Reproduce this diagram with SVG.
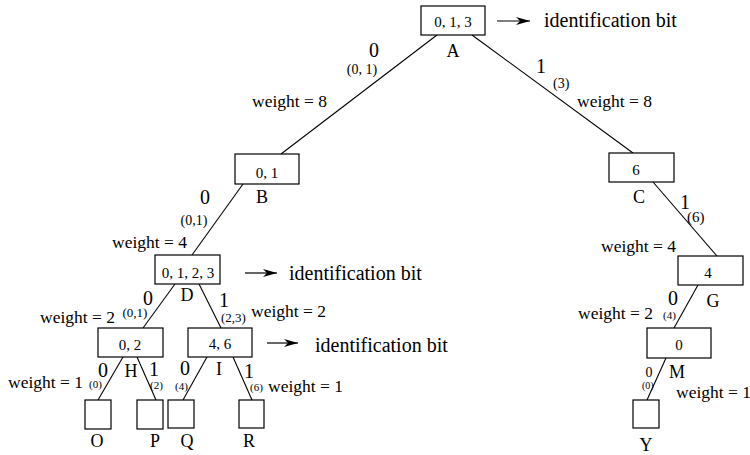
<svg xmlns="http://www.w3.org/2000/svg" width="750" height="455" viewBox="0 0 750 455" font-family="Liberation Serif, Times New Roman, DejaVu Serif, serif">
  <style>
    text { font-family: 'Liberation Serif', 'Times New Roman', 'DejaVu Serif', serif; fill: #000; }
    .box { fill: #fff; stroke: #000; stroke-width: 1.2; }
    .edge { stroke: #000; stroke-width: 1.1; fill: none; }
    .arr { stroke: #000; stroke-width: 1.2; fill: none; marker-end: url(#head); }
    .val { font-size: 15px; text-anchor: middle; }
    .name { font-size: 18px; text-anchor: middle; }
    .bit { font-size: 20px; text-anchor: middle; }
    .set { font-size: 14px; }
    .sm { font-size: 11px; }
    .w { font-size: 17.5px; }
    .id { font-size: 20px; }
  </style>
  <defs>
    <marker id="head" viewBox="0 0 14 8" refX="14" refY="4" markerWidth="14" markerHeight="8" markerUnits="userSpaceOnUse" orient="auto">
      <path d="M0,0 L14,4 L0,8 L4,4 Z" fill="#000"/>
    </marker>
  </defs>

  <!-- tree edges -->
  <g id="connectors">
    <line class="edge" x1="437" y1="35" x2="281" y2="154"/>
    <line class="edge" x1="472" y1="35" x2="633" y2="153"/>
    <line class="edge" x1="243" y1="184" x2="192" y2="255"/>
    <line class="edge" x1="653" y1="182" x2="717" y2="256"/>
    <line class="edge" x1="175" y1="284" x2="143" y2="328"/>
    <line class="edge" x1="199" y1="284" x2="221" y2="328"/>
    <line class="edge" x1="123" y1="357" x2="98" y2="400"/>
    <line class="edge" x1="137" y1="357" x2="156" y2="400"/>
    <line class="edge" x1="207" y1="357" x2="183" y2="400"/>
    <line class="edge" x1="233" y1="357" x2="252" y2="400"/>
    <line class="edge" x1="698" y1="285" x2="674" y2="328"/>
    <line class="edge" x1="666" y1="358" x2="647" y2="400"/>
    <!-- identification-bit pointers -->
    <line class="arr" x1="497" y1="21" x2="530" y2="21"/>
    <line class="arr" x1="245" y1="273" x2="277" y2="273"/>
    <line class="arr" x1="267" y1="343" x2="298" y2="343"/>
  </g>

  <!-- nodes -->
  <g id="A">
    <rect class="box" x="421" y="6" width="64" height="29"/>
    <text class="val" x="453" y="27">0, 1, 3</text>
    <text class="name" x="453" y="57">A</text>
  </g>
  <g id="B">
    <rect class="box" x="235" y="154" width="64" height="30"/>
    <text class="val" x="267" y="178">0, 1</text>
    <text class="name" x="262" y="203">B</text>
  </g>
  <g id="C">
    <rect class="box" x="609" y="153" width="65" height="29"/>
    <text class="val" x="636" y="175">6</text>
    <text class="name" x="639" y="203">C</text>
  </g>
  <g id="D">
    <rect class="box" x="155" y="255" width="65" height="29"/>
    <text class="val" x="188" y="278">0, 1, 2, 3</text>
    <text class="name" x="187" y="301">D</text>
  </g>
  <g id="G">
    <rect class="box" x="678" y="256" width="65" height="29"/>
    <text class="val" x="708" y="278">4</text>
    <text class="name" x="713" y="307">G</text>
  </g>
  <g id="H">
    <rect class="box" x="98" y="328" width="65" height="29"/>
    <text class="val" x="130" y="350">0, 2</text>
    <text class="name" x="131" y="377">H</text>
  </g>
  <g id="I">
    <rect class="box" x="188" y="328" width="64" height="29"/>
    <text class="val" x="220" y="349">4, 6</text>
    <text class="name" x="219" y="375">I</text>
  </g>
  <g id="M">
    <rect class="box" x="647" y="328" width="64" height="30"/>
    <text class="val" x="679" y="350">0</text>
    <text class="name" x="677" y="378">M</text>
  </g>
  <g id="O">
    <rect class="box" x="85" y="400" width="26" height="29"/>
    <text class="name" x="97" y="447">O</text>
  </g>
  <g id="P">
    <rect class="box" x="137" y="400" width="26" height="29"/>
    <text class="name" x="155" y="447">P</text>
  </g>
  <g id="Q">
    <rect class="box" x="168" y="400" width="26" height="28"/>
    <text class="name" x="187" y="447">Q</text>
  </g>
  <g id="R">
    <rect class="box" x="239" y="400" width="25" height="28"/>
    <text class="name" x="249" y="447">R</text>
  </g>
  <g id="Y">
    <rect class="box" x="633" y="400" width="26" height="28"/>
    <text class="name" x="646" y="451">Y</text>
  </g>

  <!-- pointer captions -->
  <g id="captions">
    <text class="id" x="544" y="27">identification bit</text>
    <text class="id" x="289" y="280">identification bit</text>
    <text class="id" x="315" y="352">identification bit</text>
  </g>

  <!-- edge bits and covered sets -->
  <g id="edge-labels">
    <text class="bit" x="374" y="57">0</text>
    <text class="set" x="362" y="74" text-anchor="middle">(0, 1)</text>
    <text class="bit" x="541" y="73">1</text>
    <text class="set" x="553" y="88">(3)</text>
    <text class="bit" x="205" y="204">0</text>
    <text class="set" x="194" y="225" text-anchor="middle">(0,1)</text>
    <text class="bit" x="685" y="209">1</text>
    <text class="set" x="687" y="222" style="font-size:15px">(6)</text>
    <text class="bit" x="148" y="305">0</text>
    <text class="set" x="135" y="317" text-anchor="middle" style="font-size:13px">(0,1)</text>
    <text class="bit" x="224" y="307">1</text>
    <text class="set" x="221" y="322" style="font-size:13px">(2,3)</text>
    <text class="bit" x="103" y="377">0</text>
    <text class="sm" x="89" y="388">(0)</text>
    <text class="bit" x="154" y="376">1</text>
    <text class="sm" x="150" y="389">(2)</text>
    <text class="bit" x="185" y="375">0</text>
    <text class="sm" x="175" y="390">(4)</text>
    <text class="bit" x="249" y="378">1</text>
    <text class="sm" x="250" y="391">(6)</text>
    <text class="bit" x="673" y="305">0</text>
    <text class="sm" x="663" y="319">(4)</text>
    <text class="bit" x="649" y="377" style="font-size:14px">0</text>
    <text class="sm" x="642" y="389" style="font-size:10px">(0)</text>
  </g>

  <!-- subtree weights -->
  <g id="weights">
    <text class="w" x="252" y="107">weight = 8</text>
    <text class="w" x="577" y="107">weight = 8</text>
    <text class="w" x="112" y="248">weight = 4</text>
    <text class="w" x="601" y="252">weight = 4</text>
    <text class="w" x="40" y="323">weight = 2</text>
    <text class="w" x="251" y="317">weight = 2</text>
    <text class="w" x="578" y="319">weight = 2</text>
    <text class="w" x="8" y="388">weight = 1</text>
    <text class="w" x="268" y="392">weight = 1</text>
    <text class="w" x="676" y="398">weight = 1</text>
  </g>
</svg>
